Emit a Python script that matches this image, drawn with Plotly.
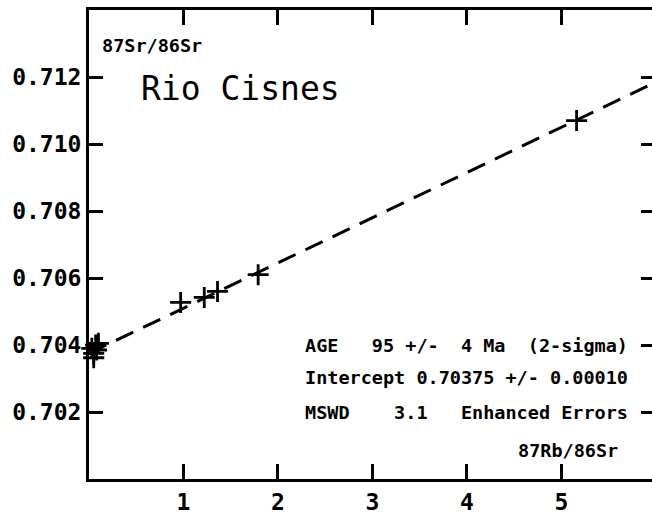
import plotly.graph_objects as go

# Data
pts_x = [0.03, 0.05, 0.07, 0.10, 0.05, 0.08, 0.97, 1.22, 1.36, 1.79, 5.16]
pts_y = [0.70390, 0.70375, 0.70400, 0.70405, 0.70362, 0.70385,
         0.70527, 0.70542, 0.70560, 0.70610, 0.71070]

line_x = [0.0, 6.0]
line_y = [0.70375, 0.71185]

x_ticks = [1, 2, 3, 4, 5]
x_ticktext = ["1", "2", "3", "4", "5"]
y_ticks = [0.702, 0.704, 0.706, 0.708, 0.710, 0.712]
y_ticktext = ["0.702", "0.704", "0.706", "0.708", "0.710", "0.712"]

x_range = [0, 5.958]
y_range = [0.700, 0.714]

MONO = "DejaVu Sans Mono"

fig = go.Figure()
fig.add_trace(go.Scatter(
    x=line_x, y=line_y, mode="lines",
    line=dict(color="black", width=3, dash="19px,11px"),
    showlegend=False, hoverinfo="skip"))
fig.add_trace(go.Scatter(
    x=pts_x, y=pts_y, mode="markers",
    marker=dict(symbol="cross-thin-open", size=15, color="black",
                line=dict(color="black", width=2.8)),
    cliponaxis=False, showlegend=False))
# invisible trace for the right-hand tick marks
fig.add_trace(go.Scatter(x=[1], y=[0.705], yaxis="y2", mode="markers",
                         marker=dict(opacity=0), showlegend=False, hoverinfo="skip"))

fig.update_layout(
    width=652, height=515,
    margin=dict(l=89, r=0, t=10, b=28),
    paper_bgcolor="white", plot_bgcolor="white",
    xaxis=dict(range=x_range, tickmode="array", tickvals=x_ticks, ticktext=x_ticktext,
               ticks="inside", ticklen=15, tickwidth=3.2, tickcolor="black",
               showline=True, linecolor="black", linewidth=3, mirror="ticks",
               showgrid=False, zeroline=False,
               tickfont=dict(family=MONO, size=23, color="black", weight="bold")),
    yaxis=dict(range=y_range, tickmode="array", tickvals=y_ticks, ticktext=y_ticktext,
               ticks="inside", ticklen=14, tickwidth=3.2, tickcolor="black",
               showline=True, linecolor="black", linewidth=3,
               showgrid=False, zeroline=False,
               tickfont=dict(family=MONO, size=23, color="black", weight="bold")),
    yaxis2=dict(range=y_range, tickmode="array", tickvals=y_ticks, overlaying="y",
                side="right", anchor="x",
                ticks="inside", ticklen=11, tickwidth=3.2, tickcolor="black",
                showline=False, showgrid=False, zeroline=False,
                showticklabels=False),
)

ann_font = dict(family=MONO, size=18.5, color="black", weight="bold")
fig.add_annotation(x=0.12, y=0.71294, xref="x", yref="y", text="87Sr/86Sr",
                   showarrow=False, xanchor="left", yanchor="middle", font=ann_font)
fig.add_annotation(x=0.53, y=0.71165, xref="x", yref="y", text="Rio Cisnes",
                   showarrow=False, xanchor="left", yanchor="middle",
                   font=dict(family=MONO, size=33, color="black"))
fig.add_annotation(x=2.26, y=0.70400, xref="x", yref="y",
                   text="AGE   95 +/-  4 Ma  (2-sigma)",
                   showarrow=False, xanchor="left", yanchor="middle", font=ann_font)
fig.add_annotation(x=2.26, y=0.70303, xref="x", yref="y",
                   text="Intercept 0.70375 +/- 0.00010",
                   showarrow=False, xanchor="left", yanchor="middle", font=ann_font)
fig.add_annotation(x=2.26, y=0.70200, xref="x", yref="y",
                   text="MSWD    3.1   Enhanced Errors",
                   showarrow=False, xanchor="left", yanchor="middle", font=ann_font)
fig.add_annotation(x=5.62, y=0.700844, xref="x", yref="y", text="87Rb/86Sr",
                   showarrow=False, xanchor="right", yanchor="middle", font=ann_font)

fig.write_html("out.html")
